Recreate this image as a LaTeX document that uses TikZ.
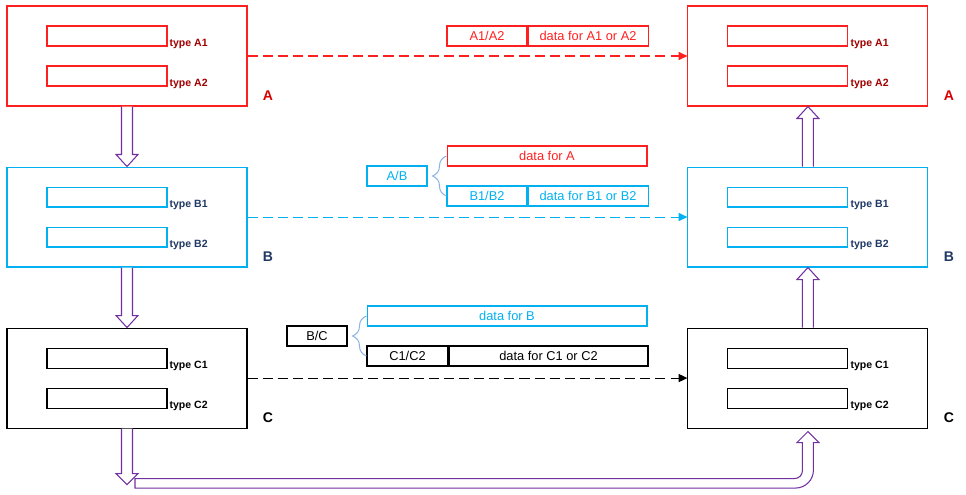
\documentclass[tikz,border=0pt]{standalone}
\usepackage{fontspec}
\setmainfont{Liberation Sans}
\usetikzlibrary{arrows.meta,positioning,calc,decorations.pathreplacing}
\definecolor{pkred}{HTML}{FF1F1F}
\definecolor{pkdarkred}{HTML}{A00000}
\definecolor{pktag}{HTML}{D80000}
\definecolor{pkcyan}{HTML}{00B0F0}
\definecolor{pknavy}{HTML}{1F3864}
\definecolor{pkpurple}{HTML}{7030A0}
\definecolor{bracecol}{HTML}{8DB4E2}
\tikzset{
  frame/.style={draw=#1,line width=0.6pt,minimum width=4.8cm,minimum height=2cm,inner sep=0pt},
  slot/.style={draw=#1,line width=0.6pt,minimum width=2.4cm,minimum height=0.4cm,inner sep=0pt},
  slotlabel/.style={anchor=base west,inner sep=1pt,font=\bfseries\fontsize{6}{7}\selectfont,text=#1},
  framelabel/.style={anchor=base west,inner sep=0pt,font=\bfseries\fontsize{8}{9}\selectfont,text=#1},
  cell/.style={draw=#1,text=#1,line width=0.6pt,minimum height=0.4cm,inner sep=0pt,
    font=\fontsize{7.3}{9}\selectfont},
  dataflow/.style={draw=#1,line width=0.6pt,dash pattern=on 5.7pt off 2.9pt,
    -{Triangle[length=5pt,width=4.6pt,fill=#1]}},
  hollow/.style={draw=pkpurple,line width=0.6pt,fill=white},
  groupbrace/.style={draw=bracecol,line width=0.6pt,decorate,decoration={brace,amplitude=0.28cm}}
}
% open block arrow: from, tip, head offset
\newcommand\hollowarrow[3]{%
  \draw[hollow] ($(#1)+(-5.5,0)$) -- ($(#2)+(-5.5,#3)$) -- ($(#2)+(-11,#3)$) -- (#2)
    -- ($(#2)+(11,#3)$) -- ($(#2)+(5.5,#3)$) -- ($(#1)+(5.5,0)$);}
\begin{document}
\begin{tikzpicture}[x=0.02cm,y=-0.02cm,node distance=1.2cm and 8.8cm]
\useasboundingbox (0,0) rectangle (966,494);
% left column
\node[frame=pkred] (la) at (127,56) {};
\node[frame=pkcyan, below=of la] (lb) {};
\node[frame=black, below=of lb] (lc) {};
% right column
\node[frame=pkred, right=of la] (ra) {};
\node[frame=pkcyan, below=of ra] (rb) {};
\node[frame=black, below=of rb] (rc) {};

\foreach \f/\c/\t/\g/\l in {la/pkred/pkdarkred/pktag/A, ra/pkred/pkdarkred/pktag/A,
    lb/pkcyan/pknavy/pknavy/B, rb/pkcyan/pknavy/pknavy/B,
    lc/black/black/black/C, rc/black/black/black/C}{
  \node[slot=\c] (\f1) at ($(\f)+(-20,-20)$) {};
  \node[slot=\c] (\f2) at ($(\f)+(-20,20)$) {};
  \node[slotlabel=\t] (\f1t) at (\f1.south east) {type \l1};
  \node[slotlabel=\t] (\f2t) at (\f2.south east) {type \l2};
  \node[framelabel=\g] (\f tag) at ($(\f.south east)+(15,-6)$) {\l};
}

% data passed along
\draw[dataflow=pkred] (la) -- (ra);
\draw[dataflow=pkcyan] (lb) -- (rb);
\draw[dataflow=black] (lc) -- (rc);

% record layouts
\node[cell=pkred, minimum width=1.6cm] (a12) at (487,36) {A1/A2};
\node[cell=pkred, minimum width=2.4cm, right=0pt of a12] (a12data) {data for A1 or A2};

\node[cell=pkred, minimum width=4cm] (adata) at (547,156) {data for A};
\node[cell=pkcyan, minimum width=1.6cm] (b12) at (487,196) {B1/B2};
\node[cell=pkcyan, minimum width=2.4cm, right=0pt of b12] (b12data) {data for B1 or B2};
\node[cell=pkcyan, minimum width=1.2cm] (ab) at (397,176) {A/B};
\draw[groupbrace] (b12.west) -- (adata.west);

\node[cell=pkcyan, minimum width=5.6cm] (bdata) at (507,316) {data for B};
\node[cell=black, minimum width=1.62cm] (c12) at (407.5,356) {C1/C2};
\node[cell=black, minimum width=3.98cm, right=0pt of c12] (c12data) {data for C1 or C2};
\node[cell=black, minimum width=1.2cm] (bc) at (317,336) {B/C};
\draw[groupbrace] (c12.west) -- (bdata.west);

% block arrows
\hollowarrow{la.south}{lb.north}{-12}
\hollowarrow{lb.south}{lc.north}{-12}
\hollowarrow{rb.north}{ra.south}{12}
\hollowarrow{rc.north}{rb.south}{12}

% loop back from C to C
\coordinate (lcout) at ($(lc.south)+(0,56)$);
\coordinate (rcin) at ($(rc.south)+(0,3)$);
\hollowarrow{lc.south}{lcout}{-11}
\draw[hollow] ($(lcout)+(8,-6)$) -- ($(rcin)+(-13.5,47)$)
  .. controls ($(rcin)+(-9,47)$) and ($(rcin)+(-5.5,43.5)$) .. ($(rcin)+(-5.5,39)$)
  -- ($(rcin)+(-5.5,11)$) -- ($(rcin)+(-11,11)$) -- (rcin) -- ($(rcin)+(11,11)$)
  -- ($(rcin)+(5.5,11)$) -- ($(rcin)+(5.5,38.5)$)
  .. controls ($(rcin)+(5.5,48.5)$) and ($(rcin)+(-2.5,56.5)$) .. ($(rcin)+(-12.5,56.5)$)
  -- ($(lcout)+(8,3.5)$) -- cycle;
\end{tikzpicture}
\end{document}
